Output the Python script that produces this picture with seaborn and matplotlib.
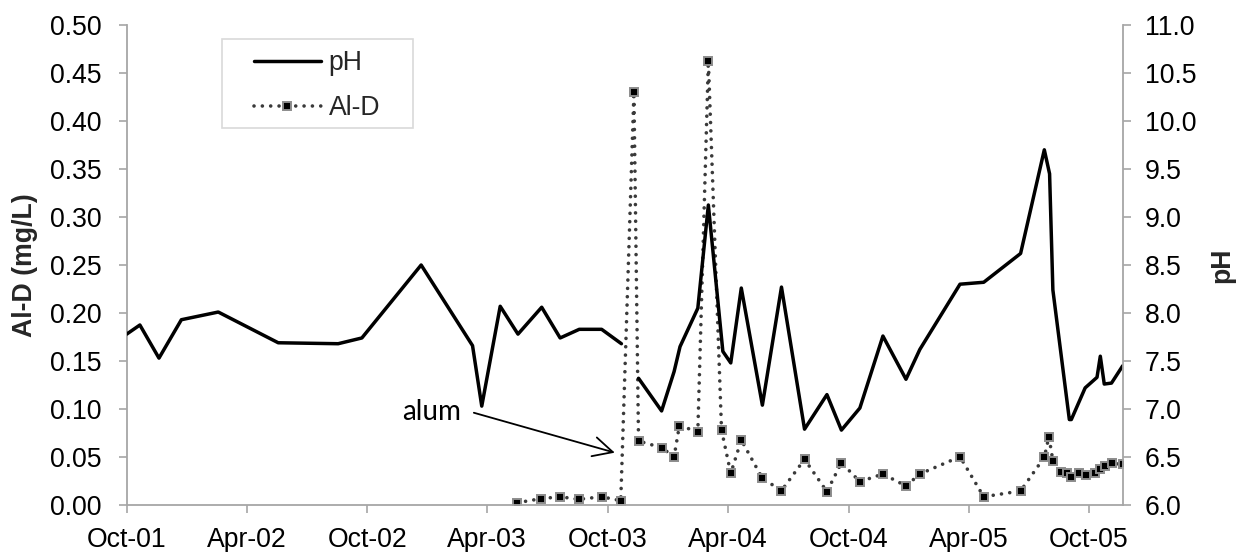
import numpy as np
import pandas as pd
import matplotlib
matplotlib.use("Agg")
import matplotlib.pyplot as plt
import seaborn as sns
from matplotlib.patches import Rectangle

# ---------------- data ----------------
ph_dates = ["2001-10-01", "2001-10-21", "2001-11-19", "2001-12-23", "2002-02-17",
            "2002-05-19", "2002-08-18", "2002-09-23", "2002-12-22", "2003-03-10",
            "2003-03-24", "2003-04-21", "2003-05-18", "2003-06-23", "2003-07-21",
            "2003-08-19", "2003-09-22", "2003-10-22",
            "2003-11-17", "2003-12-22", "2004-01-10", "2004-01-19", "2004-02-15",
            "2004-03-02", "2004-03-24", "2004-04-05", "2004-04-21", "2004-05-23",
            "2004-06-21", "2004-07-26", "2004-08-29", "2004-09-20", "2004-10-18",
            "2004-11-22", "2004-12-27", "2005-01-17", "2005-03-19", "2005-04-24",
            "2005-06-19", "2005-07-25", "2005-08-02", "2005-08-07", "2005-09-01",
            "2005-09-04", "2005-09-25", "2005-10-13", "2005-10-18", "2005-10-24",
            "2005-11-04", "2005-11-21"]
ph_values = [7.78, 7.875, 7.53, 7.93, 8.01, 7.69, 7.68, 7.74, 8.50, 7.66,
             7.03, 8.07, 7.78, 8.06, 7.74, 7.83, 7.83, 7.68,
             7.32, 6.98, 7.39, 7.65, 8.05, 9.125, 7.60, 7.48, 8.26, 7.04,
             8.27, 6.79, 7.15, 6.78, 7.01, 7.76, 7.31, 7.62, 8.30, 8.32,
             8.62, 9.70, 9.45, 8.24, 6.89, 6.89, 7.22, 7.33, 7.55, 7.26,
             7.27, 7.45]
ph_segment = [0] * 18 + [1] * 32   # pH record has a gap in Nov-2003

ald_dates = ["2003-05-17", "2003-06-22", "2003-07-21", "2003-08-18", "2003-09-22",
             "2003-10-21", "2003-11-10", "2003-11-17", "2003-12-22", "2004-01-10",
             "2004-01-18", "2004-02-15", "2004-03-02", "2004-03-22", "2004-04-05",
             "2004-04-21", "2004-05-23", "2004-06-21", "2004-07-26", "2004-08-29",
             "2004-09-20", "2004-10-18", "2004-11-22", "2004-12-27", "2005-01-17",
             "2005-03-19", "2005-04-24", "2005-06-19", "2005-07-25", "2005-08-01",
             "2005-08-07", "2005-08-20", "2005-08-29", "2005-09-04", "2005-09-16",
             "2005-09-26", "2005-10-10", "2005-10-17", "2005-10-25", "2005-11-05",
             "2005-11-21"]
ald_values = [0.0024, 0.0066, 0.0086, 0.0059, 0.0086, 0.0045, 0.430, 0.0667,
              0.0597, 0.0503, 0.0826, 0.0764, 0.4625, 0.078, 0.033, 0.0677,
              0.0278, 0.0149, 0.0476, 0.0139, 0.0441, 0.0243, 0.0323, 0.0198,
              0.0323, 0.0503, 0.0086, 0.0146, 0.0497, 0.0712, 0.0461, 0.0347,
              0.0337, 0.0289, 0.0337, 0.0313, 0.033, 0.0372, 0.0406, 0.0434,
              0.0424]

xtick_dates = ["2001-10-01", "2002-04-01", "2002-10-01", "2003-04-01", "2003-10-01",
               "2004-04-01", "2004-10-01", "2005-04-01", "2005-10-01"]
xtick_labels = ["Oct-01", "Apr-02", "Oct-02", "Apr-03", "Oct-03",
                "Apr-04", "Oct-04", "Apr-05", "Oct-05"]
ald_ticks = [0.00, 0.05, 0.10, 0.15, 0.20, 0.25, 0.30, 0.35, 0.40, 0.45, 0.50]
ph_ticks = [6.0, 6.5, 7.0, 7.5, 8.0, 8.5, 9.0, 9.5, 10.0, 10.5, 11.0]

# ---------------- style ----------------
sns.set_theme(style="ticks")
plt.rcParams["font.family"] = ["Liberation Sans", "DejaVu Sans"]
GRAY = "#a6a6a6"
FS = 19.2

W, H = 1245, 552
fig = plt.figure(figsize=(W / 100, H / 100), dpi=100)
x0, x1, ytop, ybot = 126.7, 1122.7, 25.0, 505.0
ax = fig.add_axes([x0 / W, 1 - ybot / H, (x1 - x0) / W, (ybot - ytop) / H])
ax2 = ax.twinx()

ph_df = pd.DataFrame({"date": pd.to_datetime(ph_dates), "pH": ph_values, "seg": ph_segment})
ald_df = pd.DataFrame({"date": pd.to_datetime(ald_dates), "AlD": ald_values})

sns.lineplot(data=ald_df, x="date", y="AlD", ax=ax, color="#3a3a3a", lw=2.6,
             marker="s", markersize=6.2, markerfacecolor="black",
             markeredgecolor="#8c8c8c", markeredgewidth=1.4, legend=False)
ald_line = ax.lines[-1]
ald_line.set_linestyle((0, (0.01, 2.3)))
ald_line.set_dash_capstyle("round")

sns.lineplot(data=ph_df, x="date", y="pH", units="seg", estimator=None, ax=ax2,
             color="black", lw=2.5, legend=False)
ph_line = ax2.lines[0]

# axes limits / ticks
ax.set_xlim(pd.Timestamp("2001-10-01"), pd.Timestamp("2005-11-21"))
ax.set_ylim(0, 0.5)
ax2.set_ylim(6, 11)
ax.set_xticks(pd.to_datetime(xtick_dates))
ax.set_xticklabels(xtick_labels)
ax.set_yticks(ald_ticks)
ax.set_yticklabels([f"{v:.2f}" for v in ald_ticks])
ax2.set_yticks(ph_ticks)
ax2.set_yticklabels([f"{v:.1f}" for v in ph_ticks])

for a in (ax, ax2):
    a.tick_params(axis="both", direction="out", length=6, width=1.2, color=GRAY,
                  labelsize=FS, labelcolor="black")
    a.spines["top"].set_visible(False)
    a.grid(False)
ax.tick_params(axis="y", pad=12)
ax.tick_params(axis="x", pad=10)
ax2.tick_params(axis="y", pad=10)
ax.spines["right"].set_visible(False)
ax2.spines["left"].set_visible(False)
ax2.spines["bottom"].set_visible(False)
for a, s in ((ax, "left"), (ax, "bottom"), (ax2, "right")):
    a.spines[s].set_color(GRAY)
    a.spines[s].set_linewidth(1.3)

ax.set_xlabel("")
ax.set_ylabel("Al-D (mg/L)", fontsize=FS, fontweight="bold")
ax2.set_ylabel("pH", fontsize=FS, fontweight="bold", rotation=90)
ax.yaxis.set_label_coords((25 - x0) / (x1 - x0), 0.5)
ax.yaxis.label.set_va("center")
ax2.yaxis.set_label_coords((1222 - x0) / (x1 - x0), 0.5)
ax2.yaxis.label.set_va("center")

# annotation
ax.text(pd.Timestamp("2003-02-21"), 0.097, "alum", ha="right", va="center",
        fontsize=20, family=["Lato", "DejaVu Sans"], color="black")
ax.annotate("", xy=(pd.Timestamp("2003-10-12"), 0.0545),
            xytext=(pd.Timestamp("2003-03-12"), 0.0961),
            arrowprops=dict(arrowstyle="->", color="black", lw=1.3,
                            mutation_scale=35, shrinkA=0, shrinkB=0))

# legend with light frame
ax2.add_patch(Rectangle(((222 - x0) / (x1 - x0), (ybot - 128.3) / (ybot - ytop)),
                        (413 - 222) / (x1 - x0), (128.3 - 38.7) / (ybot - ytop),
                        transform=ax2.transAxes, facecolor="white",
                        edgecolor="#d9d9d9", lw=1.2, zorder=4, clip_on=False))
leg = ax2.legend([ph_line, ald_line], ["pH", "Al-D"], loc="upper left",
                 bbox_to_anchor=((254 - x0) / (x1 - x0), (ybot - 50) / (ybot - ytop)),
                 frameon=False, borderpad=0, handlelength=2.5, handletextpad=0.3,
                 labelspacing=0.72, fontsize=FS, borderaxespad=0)
leg.set_zorder(6)

fig.savefig("out.png", dpi=100, facecolor="white")
